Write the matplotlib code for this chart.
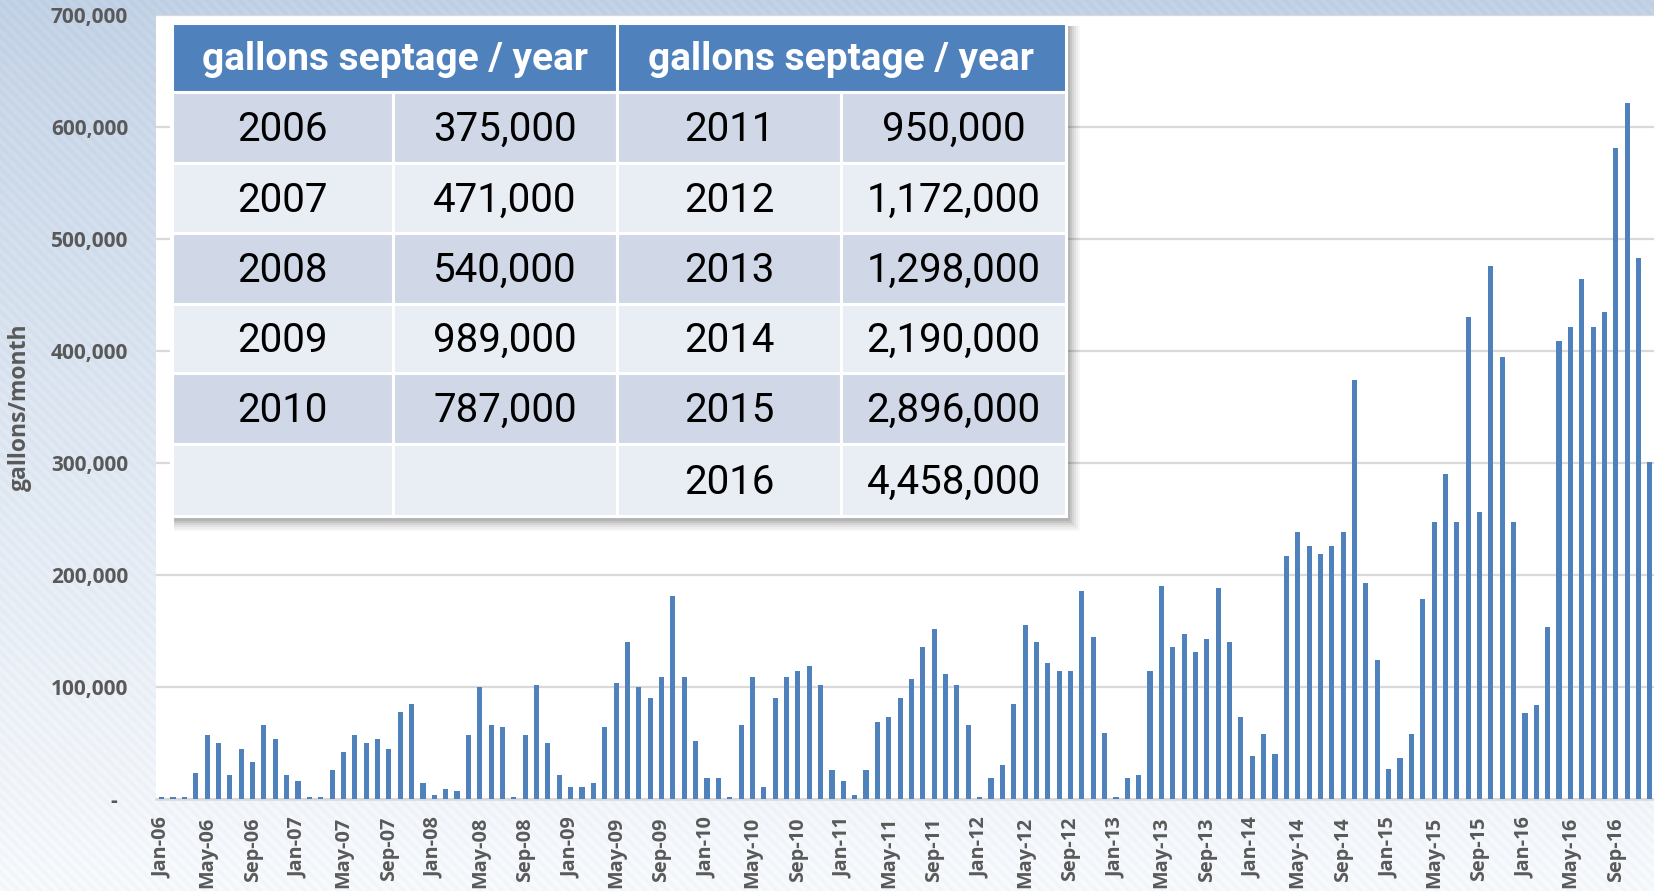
"""
Monthly septage volumes 2006-2016 with yearly totals table.
"""

import numpy as np
import pandas as pd
import matplotlib
matplotlib.use("Agg")
import matplotlib.pyplot as plt
from matplotlib.patches import Rectangle
from matplotlib.ticker import FuncFormatter, MultipleLocator

# monthly gallons, Jan-06 .. Dec-16
gallons_2006 = [2000, 2000, 2000, 23000, 57000, 50000, 21000, 45000, 33000, 66000, 54000, 21000]
gallons_2007 = [16000, 2000, 2000, 26000, 42000, 57000, 50000, 54000, 45000, 78000, 85000, 14000]
gallons_2008 = [4000, 9000, 7000, 57000, 100000, 66000, 64000, 2000, 57000, 102000, 50000, 21000]
gallons_2009 = [11000, 11000, 14000, 64000, 104000, 140000, 100000, 90000, 109000, 181000, 109000, 52000]
gallons_2010 = [18500, 18500, 2000, 66000, 109000, 11000, 90000, 109000, 114000, 119000, 102000, 26000]
gallons_2011 = [16000, 4000, 26000, 69000, 73000, 90000, 107000, 136000, 152000, 112000, 102000, 66000]
gallons_2012 = [2000, 18500, 30000, 85000, 155000, 140000, 121000, 114000, 114000, 186000, 145000, 59000]
gallons_2013 = [2000, 18500, 21000, 114000, 190000, 136000, 147000, 131000, 143000, 188000, 140000, 73000]
gallons_2014 = [38000, 58000, 40000, 217000, 238000, 226000, 219000, 226000, 238000, 374000, 193000, 124000]
gallons_2015 = [27000, 37000, 58000, 179000, 247000, 290000, 247000, 430000, 256000, 476000, 395000, 247000]
gallons_2016 = [77000, 84000, 154000, 409000, 421000, 464000, 421000, 435000, 581000, 621000, 483000, 301000]

monthly = (gallons_2006 + gallons_2007 + gallons_2008 + gallons_2009 + gallons_2010 + gallons_2011
           + gallons_2012 + gallons_2013 + gallons_2014 + gallons_2015 + gallons_2016)
months = pd.date_range("2006-01-01", periods=len(monthly), freq="MS")
month_labels = [m.strftime("%b-%y") for m in months]

# yearly totals table
table_header = "gallons septage / year"
years_left = ["2006", "2007", "2008", "2009", "2010", ""]
totals_left = ["375,000", "471,000", "540,000", "989,000", "787,000", ""]
years_right = ["2011", "2012", "2013", "2014", "2015", "2016"]
totals_right = ["950,000", "1,172,000", "1,298,000", "2,190,000", "2,896,000", "4,458,000"]

W, H = 1654, 891
BLUE = "#4f81bd"
GRAY_TXT = "#595959"
GRID = "#d9d9d9"

plt.rcParams["font.family"] = ["Open Sans", "DejaVu Sans"]

fig = plt.figure(figsize=(W / 100, H / 100), dpi=100)

# background: blue-to-pale gradient with faint diagonal stripes
bg = fig.add_axes([0, 0, 1, 1], zorder=0)
yy, xx = np.mgrid[0:H, 0:W]
t = (yy / H) ** 0.85
top = np.array([0.757, 0.820, 0.898])
bot = np.array([0.965, 0.975, 0.988])
img = top[None, None, :] * (1 - t[..., None]) + bot[None, None, :] * t[..., None]
stripes = 0.012 * np.sin(2 * np.pi * (xx - yy) / 11.0)
img = np.clip(img + stripes[..., None], 0, 1)
bg.imshow(img, extent=(0, W, H, 0), aspect="auto")
bg.set_axis_off()

# main chart
ax = fig.add_axes([156 / W, (H - 799) / H, 1 - 156 / W, (799 - 15) / H], zorder=1)
ax.set_facecolor("white")
x = np.arange(len(monthly))
ax.bar(x, monthly, width=0.45, color=BLUE, zorder=3)

ax.set_xlim(-0.5, 131.36)
ax.set_ylim(0, 700000)
ax.yaxis.set_major_locator(MultipleLocator(100000))
ax.yaxis.set_major_formatter(FuncFormatter(lambda v, p: "-  " if v == 0 else f"{int(v):,}"))
ax.set_xticks(x[::4])
ax.set_xticklabels(month_labels[::4], rotation=90, va="top", ha="center")
ax.grid(axis="y", color=GRID, linewidth=1.6, zorder=0)
for s in ["top", "right", "left"]:
    ax.spines[s].set_visible(False)
ax.spines["bottom"].set_color(GRID)
ax.spines["bottom"].set_linewidth(1.8)
ax.tick_params(axis="both", length=0, colors=GRAY_TXT, labelsize=15)
ax.tick_params(axis="y", pad=20)
ax.tick_params(axis="x", pad=13, labelsize=14.3)
for lab in ax.get_xticklabels() + ax.get_yticklabels():
    lab.set_fontweight("bold")
ax.set_ylabel("gallons/month", fontsize=16.5, fontweight="bold", color=GRAY_TXT)
ax.yaxis.set_label_coords(-0.083, 0.5)

# table overlay, drawn in pixel coordinates
ov = fig.add_axes([0, 0, 1, 1], zorder=3)
ov.set_xlim(0, W)
ov.set_ylim(H, 0)
ov.set_axis_off()
ov.patch.set_alpha(0)

cols = [172, 393, 617, 841, 1066]
rows = [23, 92, 163, 233, 304, 373, 444, 516]
tbl_font = ["Roboto", "DejaVu Sans"]

# soft shadow
for k, a in zip(range(12, 0, -2), [0.04, 0.05, 0.06, 0.08, 0.10, 0.12]):
    ov.add_patch(Rectangle((cols[0] + 2, rows[0] + 3), cols[-1] - cols[0] + k, rows[-1] - rows[0] + k,
                           facecolor="#404040", edgecolor="none", alpha=a, zorder=1))
ov.add_patch(Rectangle((cols[0] - 2, rows[0] - 2), cols[-1] - cols[0] + 4, rows[-1] - rows[0] + 4,
                       facecolor="white", edgecolor="none", zorder=2))

# header cells
for c0, c1 in [(cols[0], cols[2]), (cols[2], cols[4])]:
    ov.add_patch(Rectangle((c0, rows[0]), c1 - c0, rows[1] - rows[0],
                           facecolor=BLUE, edgecolor="white", linewidth=2.2, zorder=3))
    ov.text((c0 + c1) / 2, (rows[0] + rows[1]) / 2 + 2, table_header, color="white",
            fontsize=28, fontweight="bold", ha="center", va="center", zorder=4, family=tbl_font)

# body cells
columns = [years_left, totals_left, years_right, totals_right]
for r in range(len(years_left)):
    fill = "#d0d8e8" if r % 2 == 0 else "#e9edf4"
    y0, y1 = rows[r + 1], rows[r + 2]
    for c, col in enumerate(columns):
        ov.add_patch(Rectangle((cols[c], y0), cols[c + 1] - cols[c], y1 - y0,
                               facecolor=fill, edgecolor="white", linewidth=2.2, zorder=3))
        if col[r]:
            ov.text((cols[c] + cols[c + 1]) / 2, (y0 + y1) / 2 + 2, col[r], color="black",
                    fontsize=29, ha="center", va="center", zorder=4, family=tbl_font)

fig.savefig("out.png", dpi=100)
